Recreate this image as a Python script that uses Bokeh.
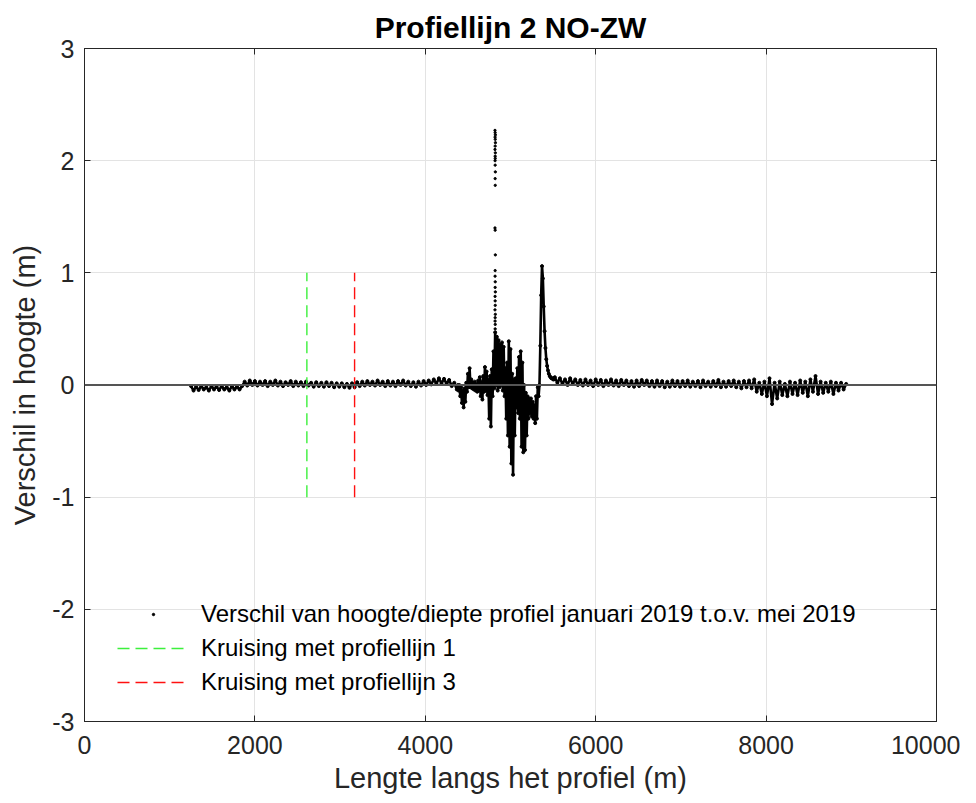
from bokeh.plotting import figure
from bokeh.models import Range1d, LinearAxis, Span, Legend, LegendItem, FixedTicker
from bokeh.embed import file_html
from bokeh.resources import INLINE

# ---------------- data ----------------
titel = "Profiellijn 2 NO-ZW"
x_ticks = [0, 2000, 4000, 6000, 8000, 10000]
y_ticks = [-3, -2, -1, 0, 1, 2, 3]
y_tick_labels = ["-3", "-2", "-1", "0", "1", "2", "3"]

# Profile segment 1 (start 1250 m, every 30 m)
deel1_start, deel1_stap = 1250, 30
deel1_verschil = [
    -0.01, -0.05, -0.015, -0.045, -0.01, -0.04, -0.02, -0.05, -0.01, -0.04, -0.015,
    -0.045, -0.01, -0.04, -0.02, -0.05, -0.01, -0.04, -0.015, -0.04, -0.01,
    0.03, -0.005, 0.04, 0.0, 0.035, -0.005, 0.03, 0.0, 0.035, -0.01, 0.03, 0.0, 0.04,
    -0.005, 0.03, -0.01, 0.025, 0.0, 0.035, -0.01, 0.03, -0.005, 0.025, -0.01, 0.03,
    -0.005, 0.02, -0.015, 0.025, -0.01, 0.02, -0.015, 0.025, -0.01, 0.02, -0.02, 0.015, -0.015,
    0.015, -0.02, 0.01, -0.025, 0.015, -0.02, 0.025, -0.01, 0.03, -0.005, 0.035, 0.0,
    0.03, -0.005, 0.04, 0.0, 0.03, -0.01, 0.035, -0.005, 0.03, -0.01, 0.035, 0.0, 0.04,
    -0.005, 0.03, -0.01, 0.025, -0.015, 0.03, -0.005, 0.035, 0.0, 0.04, 0.005, 0.05,
    0.01, 0.06, 0.015, 0.055, 0.01, 0.045, -0.01, 0.02, -0.04,
]

# Profile segment 2 (start 4380 m, every 10 m) - disturbed zone and peak
deel2_start, deel2_stap = 4380, 10
deel2_verschil = [
    0.0, -0.05, 0.0, -0.1, -0.02, -0.16, -0.05, -0.2, -0.03, -0.15, 0.02, -0.06,
    0.1, -0.02, 0.15, -0.02, 0.05, -0.03, 0.02, -0.04, 0.03, -0.05, 0.01, -0.06,
    0.04, -0.05, 0.07, -0.1, 0.03, -0.13, 0.08, -0.06, 0.16, -0.05, 0.12, -0.09,
    0.05, -0.3, 0.08, -0.37, 0.14, -0.1, 0.3, -0.03, 0.47, 0.0, 0.43, -0.05,
    0.4, -0.02, 0.36, 0.0, 0.38, -0.05, 0.34, -0.1, 0.15, -0.3, 0.2, -0.45,
    0.39, -0.55, 0.32, -0.7, 0.1, -0.8, 0.05, -0.45, 0.06, -0.2, 0.15, -0.25,
    0.25, -0.3, 0.3, -0.55, 0.2, -0.6, 0.0, -0.58, -0.07, -0.45, -0.1, -0.3,
    -0.12, -0.25, -0.12, -0.28, -0.15, -0.3, -0.18, -0.34, -0.1, -0.3, -0.02, -0.1,
    0.0, 0.35, 0.8, 1.06, 0.95, 0.7, 0.48, 0.33, 0.23, 0.17, 0.13, 0.1, 0.08,
    0.07, 0.06, 0.06, 0.05, 0.05,
]

# Profile segment 3 (start 5520 m, every 30 m)
deel3_start, deel3_stap = 5520, 30
deel3_verschil = [
    0.07, 0.02, 0.06, 0.01, 0.05, 0.0, 0.06, 0.01, 0.05, 0.0, 0.045, -0.005, 0.05, 0.0,
    0.04, -0.01, 0.05,
    0.0, 0.045, -0.01, 0.04, 0.0, 0.05, -0.005, 0.04, -0.01, 0.045, 0.0, 0.04, -0.01,
    0.035, -0.015, 0.04, -0.01, 0.045, 0.0, 0.04, -0.01, 0.035, -0.015, 0.04, -0.01,
    0.035, -0.02, 0.03, -0.015, 0.04, -0.01, 0.035, -0.015,
    0.035, -0.01, 0.04, -0.015, 0.03, -0.01, 0.035, -0.02, 0.04, -0.01, 0.03, -0.015,
    0.035, -0.01, 0.045, -0.02, 0.03, -0.015, 0.035, -0.01, 0.04, -0.02, 0.03, -0.03,
    0.035, -0.02, 0.04, -0.03, 0.05, -0.06,
    0.02, -0.08, 0.03, -0.1, 0.06, -0.17, 0.02, -0.12, 0.03, -0.09, 0.01, -0.1, 0.03,
    -0.08, 0.02, -0.09, 0.04, -0.07, 0.03, -0.1, 0.05, -0.06, 0.08, -0.08, 0.03, -0.07,
    0.02, -0.06, 0.03, -0.08, 0.02, -0.05, 0.02, -0.04, 0.01,
]

# Loose points of the spike near 4820 m
piek_afstand = [4818, 4820, 4822, 4819, 4821, 4823, 4820, 4818, 4822, 4820, 4821, 4819,
                4820, 4822, 4820, 4821, 4818, 4820, 4822, 4820, 4819, 4821, 4820, 4822,
                4819, 4820, 4821, 4818, 4822, 4820, 4819, 4821, 4820]
piek_verschil = [2.27, 2.25, 2.23, 2.21, 2.19, 2.16, 2.13, 2.1, 2.07, 2.04, 2.02, 2.0,
                 1.96, 1.9, 1.84, 1.78, 1.4, 1.38, 1.16, 1.02, 0.97, 0.92, 0.87, 0.83,
                 0.79, 0.75, 0.71, 0.67, 0.63, 0.6, 0.57, 0.54, 0.5]

# Crossings with other profile lines
kruising1_afstand = 2610
kruising3_afstand = 3170
kruising_bereik = [-1, 1]

legenda_labels = [
    "Verschil van hoogte/diepte profiel januari 2019 t.o.v. mei 2019",
    "Kruising met profiellijn 1",
    "Kruising met profiellijn 3",
]

# ---------------- build ----------------
afstand, verschil = [], []
for start, stap, vals in [(deel1_start, deel1_stap, deel1_verschil),
                          (deel2_start, deel2_stap, deel2_verschil),
                          (deel3_start, deel3_stap, deel3_verschil)]:
    afstand += [start + stap * i for i in range(len(vals))]
    verschil += vals

FONT = "Liberation Sans"
TXT = "#262626"

p = figure(width=960, height=801, output_backend="svg", toolbar_location=None,
           x_range=Range1d(0, 10000), y_range=Range1d(-3, 3),
           min_border_left=84, min_border_right=24, min_border_top=48, min_border_bottom=80,
           title=titel, background_fill_color="white", border_fill_color="white")

p.title.align = "center"
p.title.text_font = FONT
p.title.text_font_size = "30px"
p.title.text_font_style = "bold"
p.title.text_color = "black"

for ax in (p.xaxis[0], p.yaxis[0]):
    ax.axis_label_text_font = FONT
    ax.axis_label_text_font_style = "normal"
    ax.axis_label_text_font_size = "29px"
    ax.axis_label_text_color = TXT
    ax.major_label_text_font = FONT
    ax.major_label_text_font_size = "25px"
    ax.major_label_text_color = TXT
    ax.major_tick_in = 6
    ax.major_tick_out = 0
    ax.minor_tick_line_color = None
    ax.axis_line_color = TXT
    ax.major_tick_line_color = TXT

p.xaxis.ticker = FixedTicker(ticks=x_ticks)
p.yaxis.ticker = FixedTicker(ticks=y_ticks)
p.yaxis.major_label_overrides = {t: s for t, s in zip(y_ticks, y_tick_labels)}
p.xaxis.axis_label = "Lengte langs het profiel (m)"
p.yaxis.axis_label = "Verschil in hoogte (m)"
p.xaxis.major_label_standoff = 14
p.yaxis.major_label_standoff = 10
p.xaxis.axis_label_standoff = 5
p.yaxis.axis_label_standoff = 8

p.xgrid.ticker = FixedTicker(ticks=x_ticks)
p.ygrid.ticker = FixedTicker(ticks=y_ticks)
p.grid.grid_line_color = "#e3e3e3"
p.outline_line_color = TXT

for loc, ticks in (("above", x_ticks), ("right", y_ticks)):
    a = LinearAxis(ticker=FixedTicker(ticks=ticks), major_label_text_font_size="1px",
                   major_label_text_color=None,
                   major_tick_in=6, major_tick_out=0, minor_tick_line_color=None,
                   axis_line_color=TXT, major_tick_line_color=TXT, major_label_standoff=0)
    p.add_layout(a, loc)

# profile
p.line(afstand, verschil, line_color="black", line_width=2.6)
p.scatter(afstand, verschil, size=3, color="black")
dots = p.scatter(piek_afstand, piek_verschil, size=2.3, color="black")

g = p.line([kruising1_afstand] * 2, kruising_bereik, line_color="#3cf03c", line_width=1.4,
           line_dash="12 6")
r = p.line([kruising3_afstand] * 2, kruising_bereik, line_color="#ff1010", line_width=1.4,
           line_dash="12 6")

p.add_layout(Span(location=0, dimension="width", line_color="#555555", line_width=2))

legend = Legend(items=[LegendItem(label=legenda_labels[0], renderers=[dots]),
                       LegendItem(label=legenda_labels[1], renderers=[g]),
                       LegendItem(label=legenda_labels[2], renderers=[r])],
                location=(33, 22), padding=0, spacing=0, glyph_width=72, glyph_height=6,
                label_height=34, label_standoff=12, label_text_font=FONT,
                label_text_font_size="24px", label_text_color="black",
                border_line_color=None, background_fill_alpha=0)
p.add_layout(legend, "center")

open("out.html", "w").write(file_html(p, INLINE))
